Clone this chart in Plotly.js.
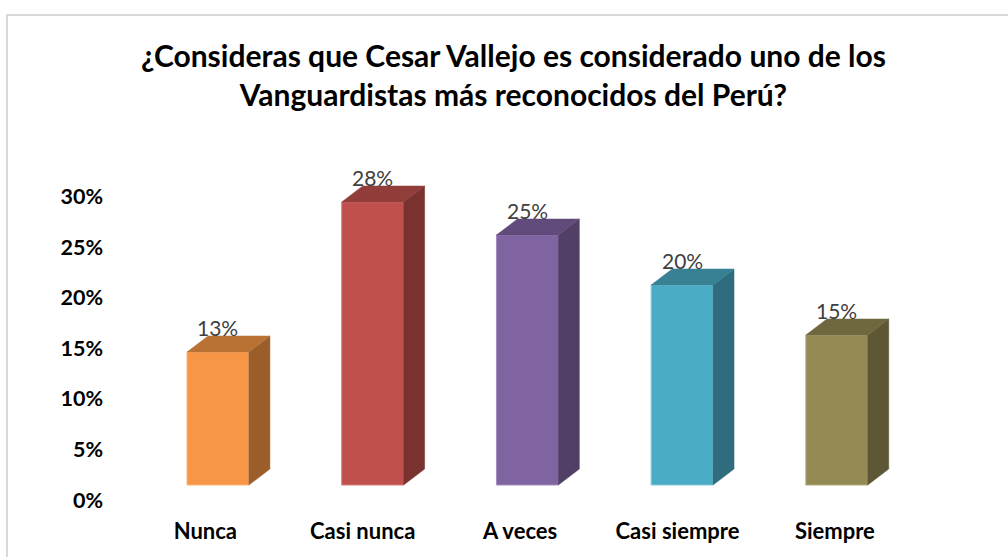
<!DOCTYPE html>
<html>
<head>
<meta charset="utf-8">
<script src="https://cdn.plot.ly/plotly-3.0.1.min.js"></script>
<style>
  html, body { margin: 0; padding: 0; background: #ffffff; overflow: hidden; }
  #chart { position: absolute; left: 0; top: 0; width: 1008px; height: 557px; }
  #frame { position: absolute; left: 6px; top: 14px; width: 1100px; height: 700px;
           border-left: 2px solid #d9d9d9; border-top: 2px solid #d9d9d9; pointer-events: none; }
</style>
</head>
<body>
<div id="chart"></div>
<div id="frame"></div>
<script>
// ---- data ----
const categories = ['Nunca', 'Casi nunca', 'A veces', 'Casi siempre', 'Siempre'];
const values = [0.133, 0.283, 0.25, 0.20, 0.15];
const yTickValues = [0, 0.05, 0.10, 0.15, 0.20, 0.25, 0.30];
const chartTitle = '¿Consideras que Cesar Vallejo es considerado uno de los<br>Vanguardistas más reconocidos del Perú?';

// ---- styles ----
const frontColors = ['#F79646', '#C0504D', '#8064A2', '#4BACC6', '#948A54'];
const edgeColors  = ['#FAB27A', '#D27D7B', '#A38BBF', '#83C7D9', '#B3AB7E'];
const sideColors  = ['#9B5E2B', '#79322F', '#513F66', '#2F6C7D', '#5D5735'];
const topColors   = ['#BA7234', '#913D3A', '#614B7B', '#388195', '#6F683F'];

const W = 1008, H = 557;
const M = { l: 110, r: 8, t: 150, b: 52 };
const xRange = [-0.698, 5.055];
const yRange = [-0.020, 0.335];
const plotW = W - M.l - M.r, plotH = H - M.t - M.b;
const pxPerX = plotW / (xRange[1] - xRange[0]);
const pxPerY = plotH / (yRange[1] - yRange[0]);
const DX = 21 / pxPerX;   // depth offset (horizontal)
const DY = 16 / pxPerY;   // depth offset (vertical)
const BW = 0.4;           // bar width in category units

const xs = categories.map((c, i) => i);
const traces = [];

// front faces
traces.push({
  type: 'bar', x: xs, y: values, width: BW,
  marker: { color: frontColors, line: { color: edgeColors, width: 1 } },
  hoverinfo: 'skip', showlegend: false
});

// side and top faces
values.forEach((v, i) => {
  const xl = i - BW / 2, xr = i + BW / 2;
  traces.push({
    type: 'scatter', mode: 'lines', fill: 'toself',
    x: [xr, xr + DX, xr + DX, xr, xr],
    y: [0, DY, v + DY, v, 0],
    fillcolor: sideColors[i], line: { color: sideColors[i], width: 0.5 },
    hoverinfo: 'skip', showlegend: false
  });
  traces.push({
    type: 'scatter', mode: 'lines', fill: 'toself',
    x: [xl, xr, xr + DX, xl + DX, xl],
    y: [v, v, v + DY, v + DY, v],
    fillcolor: topColors[i], line: { color: topColors[i], width: 0.5 },
    hoverinfo: 'skip', showlegend: false
  });
});

// invisible trace carrying the label axes (x2 / y2)
traces.push({
  type: 'scatter', mode: 'markers', x: xs, y: values, xaxis: 'x2', yaxis: 'y2',
  marker: { opacity: 0 }, hoverinfo: 'skip', showlegend: false
});

// data labels
const annotations = values.map((v, i) => ({
  x: i, y: v + DY, xref: 'x', yref: 'y',
  text: Math.round(v * 100) + '%', showarrow: false,
  xanchor: 'center', yanchor: 'bottom', yshift: -6,
  font: { family: 'Lato, sans-serif', size: 21, color: '#404040' }
}));

// label axes geometry (perspective offset of the Excel labels)
const x2Range = [(M.l - 205.3) / 157.4, (W - M.r - 205.3) / 157.4];
const y2PxPer = 1011;
const y2Range = [(500 - (H - M.b)) / y2PxPer, (500 - M.t) / y2PxPer];

const layout = {
  width: W, height: H,
  margin: M,
  paper_bgcolor: '#ffffff', plot_bgcolor: 'rgba(0,0,0,0)',
  font: { family: 'Lato, sans-serif', color: '#000000' },
  title: {
    text: chartTitle,
    font: { family: 'Lato, sans-serif', size: 30, color: '#000000', weight: 'bold' },
    x: 513.5 / W, xanchor: 'center', xref: 'container',
    y: 1 - 67 / H, yanchor: 'top', yref: 'container'
  },
  bargap: 0,
  xaxis: { range: xRange, showgrid: false, zeroline: false, showline: false,
           showticklabels: false, ticks: '', fixedrange: true },
  yaxis: { range: yRange, showgrid: false, zeroline: false, showline: false,
           showticklabels: false, ticks: '', fixedrange: true },
  xaxis2: { overlaying: 'x', anchor: 'y2', side: 'bottom', range: x2Range,
            tickmode: 'array', tickvals: xs, ticktext: categories,
            showgrid: false, zeroline: false, showline: false, ticks: '',
            ticklabelstandoff: 11,
            tickfont: { family: 'Lato, sans-serif', size: 22, color: '#000000', weight: 'bold' } },
  yaxis2: { overlaying: 'y', anchor: 'x2', side: 'left', range: y2Range,
            tickmode: 'array', tickvals: yTickValues, tickformat: '.0%',
            showgrid: false, zeroline: false, showline: false, ticks: '',
            ticklabelstandoff: 6,
            tickfont: { family: 'Lato, sans-serif', size: 21.5, color: '#000000', weight: 'bold' } },
  annotations: annotations
};

Plotly.newPlot('chart', traces, layout, { staticPlot: true, displayModeBar: false });
</script>
</body>
</html>
